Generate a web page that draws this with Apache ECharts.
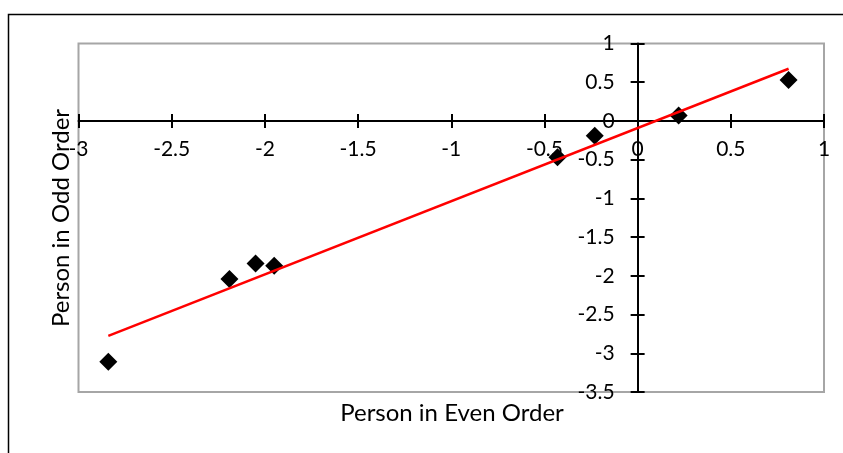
<!DOCTYPE html>
<html>
<head>
<meta charset="utf-8">
<script src="https://cdn.jsdelivr.net/npm/echarts@6/dist/echarts.min.js"></script>
<style>
  html, body { margin: 0; padding: 0; background: #fff; }
  #chart { width: 843px; height: 453px; }
</style>
</head>
<body>
<div id="chart"></div>
<script>
// Scores of each person: even-order half (x) against odd-order half (y)
const evenOrder = [-2.84, -2.19, -2.05, -1.95, -0.43, -0.23, 0.22, 0.81];
const oddOrder  = [-3.11, -2.04, -1.84, -1.87, -0.47, -0.19, 0.07, 0.53];

// Axis ranges and tick step
const xRange = [-3, 1];
const yRange = [-3.5, 1];
const tickStep = 0.5;

const xTitle = 'Person in Even Order';
const yTitle = 'Person in Odd Order';

// Least-squares linear trendline across the data range
function linearFit(xs, ys) {
  const n = xs.length;
  const mx = xs.reduce((a, b) => a + b, 0) / n;
  const my = ys.reduce((a, b) => a + b, 0) / n;
  let sxy = 0, sxx = 0;
  for (let i = 0; i < n; i++) {
    sxy += (xs[i] - mx) * (ys[i] - my);
    sxx += (xs[i] - mx) * (xs[i] - mx);
  }
  const slope = sxy / sxx;
  return { slope, intercept: my - slope * mx };
}
const fit = linearFit(evenOrder, oddOrder);
const xMin = Math.min(...evenOrder), xMax = Math.max(...evenOrder);
const trend = [
  [xMin, fit.slope * xMin + fit.intercept],
  [xMax, fit.slope * xMax + fit.intercept]
];
const points = evenOrder.map((x, i) => [x, oddOrder[i]]);

const FONT = 'Lato';
const W = 843, H = 453;
const plot = { left: 78.5, top: 43.5, right: 19, bottom: 61 };
const plotW = W - plot.left - plot.right;
const plotH = H - plot.top - plot.bottom;

// Pixel distances from the plot edges to the zero lines, so the axes cross at the origin
const zeroFromLeft = plotW * (0 - xRange[0]) / (xRange[1] - xRange[0]);
const zeroFromRight = plotW - zeroFromLeft;
const zeroFromTop = plotH * (yRange[1] - 0) / (yRange[1] - yRange[0]);
const zeroFromBottom = plotH - zeroFromTop;

// Each zero line carries two axes whose ticks point opposite ways ("cross" tick marks)
function valueAxis(range, position, offset, withLabels, labelMargin) {
  return {
    type: 'value', position: position, offset: offset,
    min: range[0], max: range[1], interval: tickStep,
    splitLine: { show: false },
    axisLine: { show: withLabels, onZero: false, lineStyle: { color: '#000', width: 2 } },
    axisTick: { show: true, length: 7, lineStyle: { color: '#000', width: 2 } },
    axisLabel: {
      show: withLabels, color: '#000', fontFamily: FONT, fontSize: 21,
      margin: labelMargin, showMinLabel: true, showMaxLabel: true
    }
  };
}

const chart = echarts.init(document.getElementById('chart'), null, { renderer: 'canvas' });
chart.setOption({
  animation: false,
  backgroundColor: '#fff',
  grid: Object.assign({ show: true, borderColor: '#a6a6a6', borderWidth: 2, backgroundColor: 'transparent' }, plot),
  xAxis: [
    valueAxis(xRange, 'bottom', -zeroFromBottom, true, 18),
    valueAxis(xRange, 'top', -zeroFromTop, false, 8)
  ],
  yAxis: [
    valueAxis(yRange, 'left', -zeroFromLeft, true, 23),
    valueAxis(yRange, 'right', -zeroFromRight, false, 8)
  ],
  graphic: [
    {
      type: 'rect', silent: true, z: -1,
      shape: { x: 8.5, y: 14.5, width: 900, height: 500 },
      style: { fill: 'none', stroke: '#000', lineWidth: 1.5 }
    },
    {
      type: 'text', silent: true,
      x: 452, y: 413,
      style: { text: xTitle, fill: '#000', font: '24px ' + FONT, textAlign: 'center', textVerticalAlign: 'middle' }
    },
    {
      type: 'text', silent: true,
      x: 61, y: 218, rotation: Math.PI / 2,
      style: { text: yTitle, fill: '#000', font: '24px ' + FONT, textAlign: 'center', textVerticalAlign: 'middle' }
    }
  ],
  series: [
    {
      type: 'scatter', xAxisIndex: 0, yAxisIndex: 0,
      data: points, symbol: 'diamond', symbolSize: 18,
      itemStyle: { color: '#000', opacity: 1 }, z: 3
    },
    {
      type: 'line', xAxisIndex: 0, yAxisIndex: 0,
      data: trend, showSymbol: false, symbol: 'none',
      lineStyle: { color: '#ff0000', width: 2.5 }, z: 4
    }
  ]
});
</script>
</body>
</html>
